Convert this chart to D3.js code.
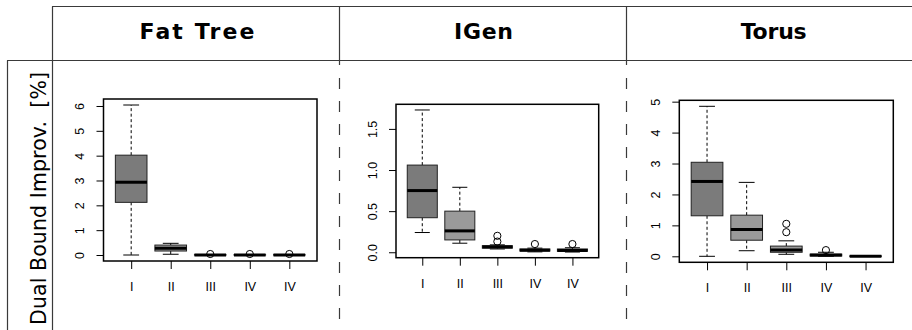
<!DOCTYPE html>
<html><head><meta charset="utf-8">
<script src="https://cdn.jsdelivr.net/npm/d3@7"></script>
<style>body{margin:0;background:#fff} svg{display:block}</style>
</head><body>
<script>
// ---- data ----
const categories = ["I", "II", "III", "IV", "IV"];
const panelTitles = ["Fat Tree", "IGen", "Torus"];
const yLabel = "Dual Bound Improv.  [%]";
// each entry: [whisker low, Q1, median, Q3, whisker high]
const fatTreeStats = [[0, 2.12, 2.93, 4.02, 6.04], [0.03, 0.16, 0.27, 0.40, 0.47], [0, 0, 0.003, 0.01, 0.02], [0, 0, 0.003, 0.01, 0.02], [0, 0, 0.003, 0.01, 0.02]];
const fatTreeOutliers = [[], [], [0.04], [0.04], [0.04]];
const iGenStats = [[0.24, 0.42, 0.75, 1.06, 1.73], [0.11, 0.15, 0.26, 0.50, 0.79], [0.04, 0.05, 0.065, 0.08, 0.09], [0.005, 0.015, 0.025, 0.04, 0.05], [0.003, 0.012, 0.022, 0.04, 0.055]];
const iGenOutliers = [[], [], [0.13, 0.2], [0.1], [0.1]];
const torusStats = [[0, 1.31, 2.42, 3.04, 4.85], [0.18, 0.52, 0.87, 1.33, 2.39], [0.065, 0.13, 0.2, 0.33, 0.5], [0, 0.01, 0.04, 0.07, 0.13], [0, 0, 0.005, 0.01, 0.015]];
const torusOutliers = [[], [], [0.78, 1.05], [0.2], []];
const fatTreeTicks = [0, 1, 2, 3, 4, 5, 6];
const iGenTicks = [0, 0.5, 1, 1.5];
const torusTicks = [0, 1, 2, 3, 4, 5];

// ---- layout / style ----
const W = 912, H = 330;
const panels = [
  { title: panelTitles[0], stats: fatTreeStats, outliers: fatTreeOutliers, ticks: fatTreeTicks, box: { x0: 103.5, x1: 317, y0: 99, y1: 261 }, tx: 197, tw: 115 },
  { title: panelTitles[1], stats: iGenStats, outliers: iGenOutliers, ticks: iGenTicks, box: { x0: 396, x1: 598.7, y0: 104.3, y1: 257.7 }, tx: 483.5, tw: 59 },
  { title: panelTitles[2], stats: torusStats, outliers: torusOutliers, ticks: torusTicks, box: { x0: 679.3, x1: 893.3, y0: 100.3, y1: 262.3 }, tx: 773.7, tw: 66 }
];
const fills = ["#7b7b7b", "#9a9a9a", "#9a9a9a", "#9a9a9a", "#9a9a9a"];
const gridColor = "#3a3a3a";
const axisFont = "'Liberation Sans', Arial, Helvetica, sans-serif";
const labelFont = "'DejaVu Sans', sans-serif";

const svg = d3.select("body").append("svg").attr("width", W).attr("height", H);

// table frame
const g0 = svg.append("g").attr("stroke", gridColor).attr("stroke-width", 1.2).attr("fill", "none");
g0.append("line").attr("x1", 52).attr("x2", W).attr("y1", 6.5).attr("y2", 6.5);
g0.append("line").attr("x1", 7).attr("x2", W).attr("y1", 60.5).attr("y2", 60.5);
g0.append("line").attr("x1", 7.5).attr("x2", 7.5).attr("y1", 60.5).attr("y2", H);
g0.append("line").attr("x1", 52.5).attr("x2", 52.5).attr("y1", 6.5).attr("y2", H);
[339.5, 626.5].forEach(x => {
  g0.append("line").attr("x1", x).attr("x2", x).attr("y1", 6.5).attr("y2", 65);
  g0.append("line").attr("x1", x).attr("x2", x).attr("y1", 78).attr("y2", H).attr("stroke-dasharray", "11,12");
});

// y label
svg.append("text")
  .attr("transform", "translate(46,198.5) rotate(-90)")
  .attr("text-anchor", "middle")
  .attr("font-family", labelFont).attr("font-size", 20.5)
  .attr("textLength", 253).attr("lengthAdjust", "spacing")
  .style("white-space", "pre")
  .text(yLabel);

panels.forEach(p => {
  const b = p.box;
  // title
  svg.append("text").attr("x", p.tx).attr("y", 38.5)
    .attr("text-anchor", "middle").attr("font-family", labelFont)
    .attr("font-weight", "bold").attr("font-size", 22)
    .attr("textLength", p.tw).attr("lengthAdjust", "spacing")
    .text(p.title);

  const x = d3.scaleLinear().domain([0.5 - 0.2, categories.length + 0.5 + 0.2]).range([b.x0, b.x1]);
  const allVals = p.stats.flat().concat(p.outliers.flat());
  const lo = d3.min(allVals), hi = d3.max(allVals), pad = (hi - lo) * 0.04;
  const y = d3.scaleLinear().domain([lo - pad, hi + pad]).range([b.y1, b.y0]);

  const g = svg.append("g");
  const bw = 0.8, sw = 0.4;

  p.stats.forEach((s, i) => {
    const c = i + 1;
    const [wl, q1, md, q3, wh] = s;
    // whiskers
    g.append("line").attr("x1", x(c)).attr("x2", x(c)).attr("y1", y(q3)).attr("y2", y(wh))
      .attr("stroke", "#000").attr("stroke-width", 1).attr("stroke-dasharray", "3,2.5");
    g.append("line").attr("x1", x(c)).attr("x2", x(c)).attr("y1", y(q1)).attr("y2", y(wl))
      .attr("stroke", "#000").attr("stroke-width", 1).attr("stroke-dasharray", "3,2.5");
    // staples
    [wl, wh].forEach(v => g.append("line")
      .attr("x1", x(c - sw / 2)).attr("x2", x(c + sw / 2)).attr("y1", y(v)).attr("y2", y(v))
      .attr("stroke", "#000").attr("stroke-width", 1));
    // box
    g.append("rect").attr("x", x(c - bw / 2)).attr("width", x(c + bw / 2) - x(c - bw / 2))
      .attr("y", y(q3)).attr("height", Math.max(0, y(q1) - y(q3)))
      .attr("fill", fills[i]).attr("stroke", "#222").attr("stroke-width", 1);
    // median
    g.append("line").attr("x1", x(c - bw / 2)).attr("x2", x(c + bw / 2)).attr("y1", y(md)).attr("y2", y(md))
      .attr("stroke", "#000").attr("stroke-width", 3);
    // outliers
    p.outliers[i].forEach(v => g.append("circle").attr("cx", x(c)).attr("cy", y(v)).attr("r", 3.6)
      .attr("fill", "none").attr("stroke", "#000").attr("stroke-width", 1));
  });

  // plot frame
  g.append("rect").attr("x", b.x0).attr("y", b.y0).attr("width", b.x1 - b.x0).attr("height", b.y1 - b.y0)
    .attr("fill", "none").attr("stroke", "#000").attr("stroke-width", 1.5);

  // y axis
  const fmt = p.ticks.some(t => t % 1 !== 0) ? d3.format(".1f") : d3.format("d");
  const ya = svg.append("g").attr("transform", `translate(${b.x0},0)`)
    .call(d3.axisLeft(y).tickValues(p.ticks).tickSize(7).tickFormat(fmt));
  ya.select(".domain").remove();
  ya.selectAll(".tick line").attr("stroke", "#000");
  ya.selectAll(".tick text")
    .attr("font-family", axisFont).attr("font-size", 12.5).attr("fill", "#000")
    .attr("x", null).attr("dy", null)
    .attr("text-anchor", "middle")
    .attr("transform", "translate(-19.5,0) rotate(-90)");

  // x axis
  const xa = svg.append("g").attr("transform", `translate(0,${b.y1})`)
    .call(d3.axisBottom(x).tickValues(categories.map((_, i) => i + 1)).tickSize(8)
      .tickFormat(d => categories[d - 1]));
  xa.select(".domain").remove();
  xa.selectAll(".tick line").attr("stroke", "#000");
  xa.selectAll(".tick text")
    .attr("font-family", axisFont).attr("font-size", 12.5).attr("fill", "#000")
    .attr("y", 30).attr("dy", null);
});
</script>
</body></html>
